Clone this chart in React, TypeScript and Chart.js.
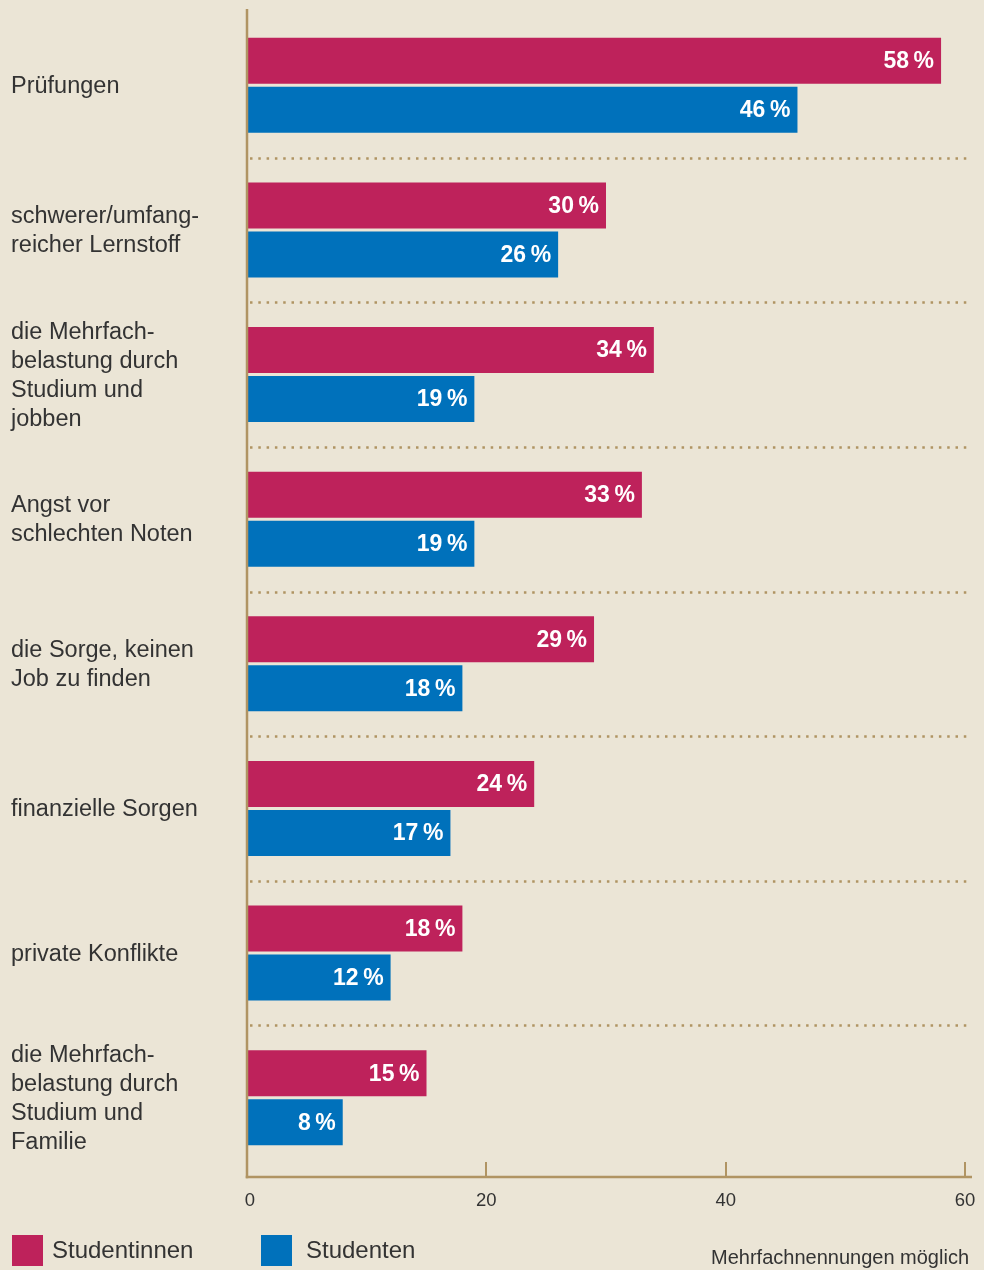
import React, { useEffect, useRef } from "react";
import { Chart, registerables } from "chart.js";

Chart.register(...registerables);

const categories = [
  "Prüfungen",
  "schwerer/umfangreicher Lernstoff",
  "die Mehrfachbelastung durch Studium und jobben",
  "Angst vor schlechten Noten",
  "die Sorge, keinen Job zu finden",
  "finanzielle Sorgen",
  "private Konflikte",
  "die Mehrfachbelastung durch Studium und Familie",
];
const categoryLines = [
  ["Prüfungen"],
  ["schwerer/umfang-", "reicher Lernstoff"],
  ["die Mehrfach-", "belastung durch", "Studium und", "jobben"],
  ["Angst vor", "schlechten Noten"],
  ["die Sorge, keinen", "Job zu finden"],
  ["finanzielle Sorgen"],
  ["private Konflikte"],
  ["die Mehrfach-", "belastung durch", "Studium und", "Familie"],
];
const studentinnen = [58, 30, 34, 33, 29, 24, 18, 15];
const studenten = [46, 26, 19, 19, 18, 17, 12, 8];
const xTicks = [0, 20, 40, 60];
const seriesNames = ["Studentinnen", "Studenten"];
const footnote = "Mehrfachnennungen möglich";

const BG = "#ebe5d6";
const MAGENTA = "#be225b";
const BLUE = "#0071bb";
const AXIS = "#b09463";
const TEXT = "#333333";
const FONT = "'Liberation Sans', Arial, sans-serif";

const decorPlugin = {
  id: "decor",
  beforeDraw(chart: any) {
    const { ctx, width, height } = chart;
    ctx.save();
    ctx.fillStyle = BG;
    ctx.fillRect(0, 0, width, height);
    ctx.restore();
  },
  afterDatasetsDraw(chart: any) {
    const { ctx, chartArea } = chart;
    const xs = chart.scales.x;
    const ys = chart.scales.y;
    ctx.save();

    // value labels
    ctx.font = `bold 23px ${FONT}`;
    ctx.fillStyle = "#ffffff";
    ctx.textAlign = "right";
    ctx.textBaseline = "middle";
    chart.data.datasets.forEach((ds: any, di: number) => {
      const meta = chart.getDatasetMeta(di);
      meta.data.forEach((bar: any, i: number) => {
        ctx.fillText(`${ds.data[i]}\u2009%`, bar.x - 7, bar.y + 1);
      });
    });

    // dotted separators
    const n = categories.length;
    const step = ys.getPixelForValue(1) - ys.getPixelForValue(0);
    ctx.strokeStyle = AXIS;
    ctx.lineWidth = 2.5;
    ctx.setLineDash([2.5, 5.8]);
    for (let i = 0; i < n - 1; i++) {
      const y = Math.round(ys.getPixelForValue(i) + step / 2) + 0.5;
      ctx.beginPath();
      ctx.moveTo(chartArea.left + 3, y);
      ctx.lineTo(972, y);
      ctx.stroke();
    }
    ctx.setLineDash([]);

    // axes
    const axisY = chartArea.bottom + 7;
    ctx.strokeStyle = AXIS;
    ctx.lineWidth = 2.5;
    ctx.beginPath();
    ctx.moveTo(chartArea.left, 9);
    ctx.lineTo(chartArea.left, axisY + 1.25);
    ctx.stroke();
    ctx.beginPath();
    ctx.moveTo(chartArea.left - 1.25, axisY);
    ctx.lineTo(972, axisY);
    ctx.stroke();
    ctx.lineWidth = 2;
    xTicks.forEach((t) => {
      if (t === 0) return;
      const x = Math.round(xs.getPixelForValue(t));
      ctx.beginPath();
      ctx.moveTo(x, axisY - 15);
      ctx.lineTo(x, axisY);
      ctx.stroke();
    });

    // tick labels
    ctx.fillStyle = TEXT;
    ctx.font = `18.5px ${FONT}`;
    ctx.textAlign = "center";
    ctx.textBaseline = "alphabetic";
    xTicks.forEach((t) => {
      const x = xs.getPixelForValue(t) + (t === 0 ? 3 : 0);
      ctx.fillText(String(t), x, axisY + 29);
    });

    // category labels
    ctx.font = `23.5px ${FONT}`;
    ctx.textAlign = "left";
    ctx.textBaseline = "middle";
    const lh = 29;
    categoryLines.forEach((lines, i) => {
      const cy = ys.getPixelForValue(i) + 1;
      const start = cy - ((lines.length - 1) * lh) / 2;
      lines.forEach((ln, k) => ctx.fillText(ln, 11, start + k * lh));
    });

    // legend
    const colors = [MAGENTA, BLUE];
    const lx = [12, 261];
    const tx = [52, 306];
    ctx.font = `24px ${FONT}`;
    seriesNames.forEach((name, i) => {
      ctx.fillStyle = colors[i];
      ctx.fillRect(lx[i], 1235, 31, 31);
      ctx.fillStyle = TEXT;
      ctx.fillText(name, tx[i], 1251);
    });

    // footnote
    ctx.font = `20px ${FONT}`;
    ctx.textAlign = "right";
    ctx.textBaseline = "alphabetic";
    ctx.fillText(footnote, 969, 1264);

    ctx.restore();
  },
};

export default function App() {
  const ref = useRef<HTMLCanvasElement | null>(null);
  useEffect(() => {
    document.body.style.margin = "0";
    document.body.style.background = BG;
    const canvas = ref.current!;
    const chart = new Chart(canvas, {
      type: "bar",
      data: {
        labels: categories,
        datasets: [
          {
            label: seriesNames[0],
            data: studentinnen,
            backgroundColor: MAGENTA,
            borderWidth: 0,
            barPercentage: 0.94,
            categoryPercentage: 0.678,
          },
          {
            label: seriesNames[1],
            data: studenten,
            backgroundColor: BLUE,
            borderWidth: 0,
            barPercentage: 0.94,
            categoryPercentage: 0.678,
          },
        ],
      },
      options: {
        indexAxis: "y",
        responsive: false,
        animation: false,
        events: [],
        layout: { padding: { left: 247, right: 19, top: 13, bottom: 100 } },
        scales: {
          x: { display: false, min: 0, max: 60 },
          y: { display: false },
        },
        plugins: {
          legend: { display: false },
          tooltip: { enabled: false },
          title: { display: false },
        },
      },
      plugins: [decorPlugin],
    });
    return () => chart.destroy();
  }, []);
  return (
    <div style={{ position: "absolute", left: 0, top: 0, width: 984, height: 1270 }}>
      <canvas ref={ref} width={984} height={1270} style={{ width: 984, height: 1270, display: "block" }} />
    </div>
  );
}
